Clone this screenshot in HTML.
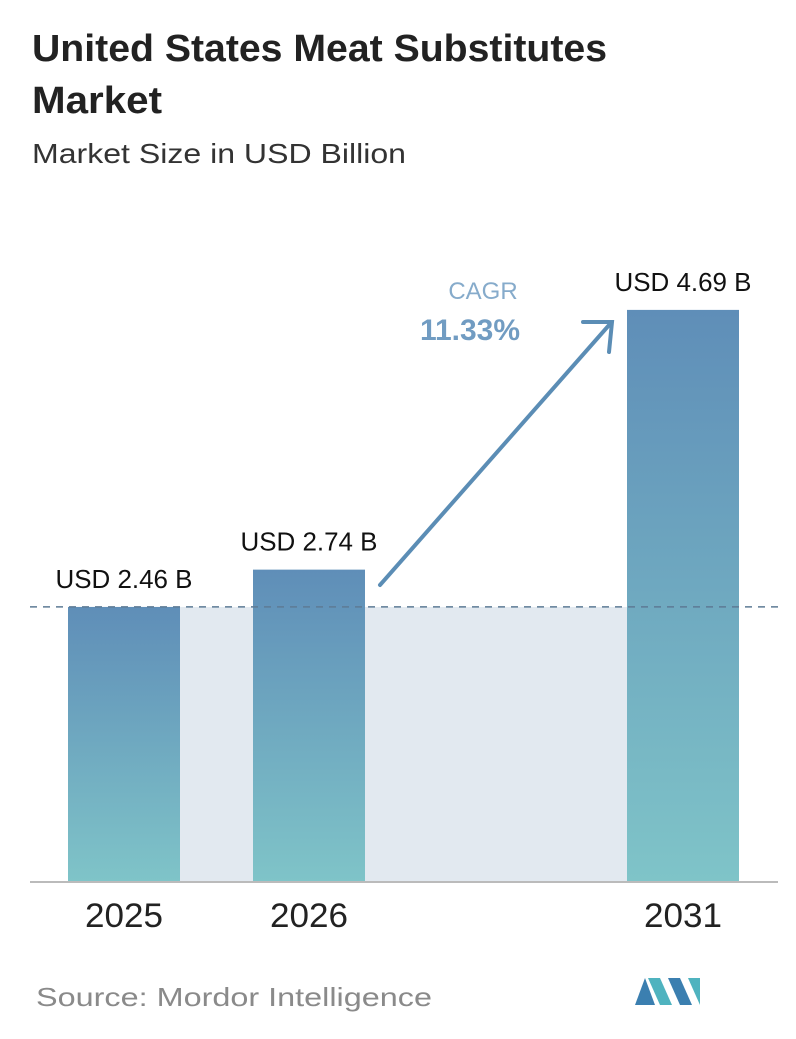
<!DOCTYPE html>
<html><head><meta charset="utf-8"><style>
body{margin:0;background:#fff;width:796px;height:1034px;overflow:hidden;font-family:"Liberation Sans",sans-serif;}
</style></head><body>
<svg width="796" height="1034" xmlns="http://www.w3.org/2000/svg">
<defs>
<linearGradient id="g" x1="0" y1="0" x2="0" y2="1"><stop offset="0" stop-color="#5f8eb8"/><stop offset="1" stop-color="#7fc4c8"/></linearGradient>
</defs>
<text x="32" y="61" font-size="38" font-weight="bold" fill="#222" textLength="575" lengthAdjust="spacingAndGlyphs">United States Meat Substitutes</text>
<text x="32" y="113" font-size="38" font-weight="bold" fill="#222" textLength="130" lengthAdjust="spacingAndGlyphs">Market</text>
<text x="32" y="163" font-size="28" fill="#333" textLength="374" lengthAdjust="spacingAndGlyphs">Market Size in USD Billion</text>
<g id="plot"></g>
<text x="483" y="299" font-size="24" fill="#86abcb" text-anchor="middle">CAGR</text>
<text x="470" y="340" font-size="30" font-weight="bold" fill="#719cc2" text-anchor="middle">11.33%</text>
<g stroke="#5b8db5" stroke-width="4" fill="none" stroke-linecap="round">
<line x1="380" y1="585" x2="610" y2="324"/>
<polyline points="583,322 612,322 609,352"/>
</g>
<text x="36" y="1006" font-size="26" fill="#8a8a8a" textLength="396" lengthAdjust="spacingAndGlyphs">Source:  Mordor Intelligence</text>
<g>
<polygon points="635,1005 645,978 655,1005" fill="#3b7fb0"/>
<polygon points="648,978 660,978 672,1005 660,1005" fill="#4fb3bf"/>
<polygon points="668,978 680,978 692,1005 680,1005" fill="#3b7fb0"/>
<polygon points="688,978 700,978 700,1005" fill="#4fb3bf"/>
</g>
</svg>
<script>
const categories=["2025","2026","2031"];
const values=[2.46,2.74,4.69];
const labels=["USD 2.46 B","USD 2.74 B","USD 4.69 B"];
const NS="http://www.w3.org/2000/svg";
const base=882;
function y(v){return base-(v*133.2-52.6);}
const xc=[124,309,683];
function x(i){return xc[i];}
const bw=112;
const g=document.getElementById('plot');
function mk(t,a){const e=document.createElementNS(NS,t);for(const k in a)e.setAttribute(k,a[k]);g.appendChild(e);return e;}
const y0=y(values[0]);
const band=mk('rect',{x:x(0)+bw/2,y:y0,width:x(2)-x(0)-bw,height:base-y0,fill:'#e2e9f0'});


categories.forEach((c,i)=>{
 const r=mk('rect',{x:x(i)-bw/2,y:y(values[i]),width:bw,height:base-y(values[i]),fill:'url(#g)'});
 
 
 const t=mk('text',{x:x(i),y:y(values[i])-19,'font-size':26,fill:'#111','text-anchor':'middle',textLength:137,lengthAdjust:'spacingAndGlyphs'});
 t.textContent=labels[i];
 
 
 const xl=mk('text',{x:x(i),y:927,'font-size':34,fill:'#222','text-anchor':'middle',textLength:78,lengthAdjust:'spacingAndGlyphs'});
 xl.textContent=c;
 
 
});
const dl=mk('line',{x1:30,x2:780,y1:y0,y2:y0,stroke:'#5d7b95','stroke-width':1.5,'stroke-dasharray':'7,6'});


const ax=mk('line',{x1:30,x2:778,y1:base,y2:base,stroke:'#bbb','stroke-width':2});


</script>
</body></html>
